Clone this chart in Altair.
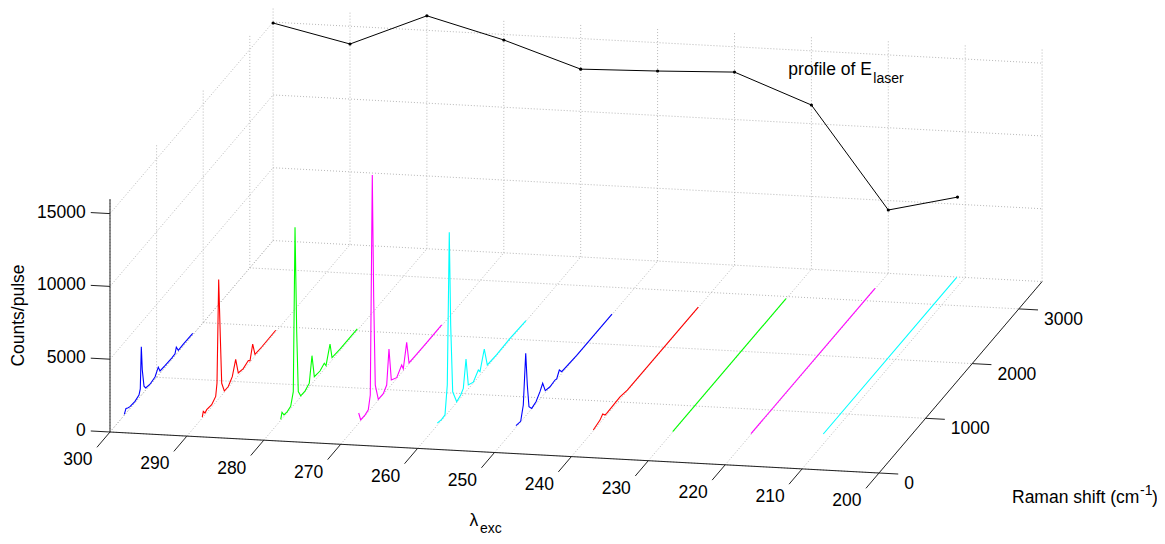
import altair as alt
import pandas as pd

# ---------------- data ----------------
lam_ticks = [300, 290, 280, 270, 260, 250, 240, 230, 220, 210, 200]
raman_ticks = [0, 1000, 2000, 3000]
count_ticks = [0, 5000, 10000, 15000]
lam_lim = [200, 300]
raman_lim = [0, 3500]
count_lim = [0, 16000]

spec_lam = [300, 290, 280, 270, 260, 250, 240, 230, 220, 211]
spec_color = ["#0000ff", "#ff0000", "#00ff00", "#ff00ff", "#00ffff",
              "#0000ff", "#ff0000", "#00ff00", "#ff00ff", "#00ffff"]

s1_raman = [307, 343, 380, 429, 536, 622, 650, 672, 693, 730, 766, 858, 966, 1036, 1073, 1180, 1324, 1395, 1423, 1466, 1573, 1775]
s1_counts = [60, 330, 220, 130, 90, 200, 520, 3330, 1650, 400, 150, 60, 150, 560, 160, 120, 100, 130, 480, 100, 130, 110]
s2_raman = [330, 352, 388, 425, 532, 618, 646, 682, 717, 747, 803, 888, 974, 1047, 1103, 1210, 1318, 1354, 1412, 1461, 1605, 1906]
s2_counts = [60, 380, 130, 220, 160, 400, 1220, 8200, 4130, 820, 80, 70, 420, 1340, 190, 90, 240, 80, 1020, 120, 90, 110]
s3_raman = [363, 391, 433, 504, 577, 633, 670, 706, 740, 792, 884, 976, 1034, 1084, 1206, 1298, 1335, 1421, 1464, 1635, 2006]
s3_counts = [60, 450, 110, 70, 160, 960, 12110, 4800, 560, 70, 50, 250, 1920, 290, 220, 410, 100, 1270, 170, 110, 110]
s4_raman = [386, 429, 521, 592, 635, 678, 708, 742, 807, 914, 987, 1036, 1086, 1202, 1309, 1343, 1416, 1466, 1631, 1845, 2167]
s4_counts = [700, 60, 50, 140, 1000, 15950, 7370, 1280, 60, 40, 360, 2650, 340, 60, 530, 130, 1680, 80, 60, 50, 60]
s5_raman = [423, 517, 588, 637, 680, 710, 753, 839, 925, 981, 1039, 1088, 1195, 1303, 1339, 1431, 1496, 1697, 1983, 2326]
s5_counts = [150, 50, 100, 1960, 12290, 5800, 1060, 50, 190, 440, 2240, 270, 60, 490, 240, 1450, 110, 60, 110, 40]
s6_raman = [461, 562, 618, 670, 704, 740, 798, 891, 976, 1034, 1090, 1191, 1298, 1335, 1391, 1442, 1764, 2521]
s6_counts = [110, 30, 940, 4300, 1990, 360, 30, 140, 510, 870, 150, 40, 100, 40, 440, 130, 40, 30]
s7_raman = [470, 614, 672, 721, 757, 1043, 1200, 2723]
s7_counts = [60, 200, 400, 150, 130, 190, 60, 30]
s8_raman = [524, 2955]
s8_counts = [30, 30]
s9_raman = [554, 3215]
s9_counts = [60, 40]
s10_raman = [620, 3483]
s10_counts = [40, 40]

profile_lam = [300, 290, 280, 270, 260, 250, 240, 230, 220, 211]
profile_val = [14940, 13780, 16000, 14620, 12900, 13050, 13260, 11280, 4350, 5490]

# ---------------- view (oblique 3-D projection) ----------------
W, H = 1149, 528
X0, Y0 = 110, 432          # screen position of the (300 nm, 0 cm-1, 0) corner
KXL, KYL = 7.69, 0.41      # px per nm
KXR, KYR = 0.0466, 0.0547  # px per cm-1
KYZ = 0.01456              # px per count
TICK_R = 280               # tick length along Raman direction (cm-1)
TICK_L = 2.5               # tick length along lambda direction (nm)
FONT = "Liberation Sans"
FS = 17.5
FSUB = 14
LMAX = lam_lim[1]

xs = alt.Scale(domain=[8, 8 + W], nice=False, zero=False)
ys = alt.Scale(domain=[8, 8 + H], nice=False, zero=False, reverse=True)


def ex(l, r, z):
    return (f"{X0} + ({LMAX} - datum.{l})*{KXL} + datum.{r}*{KXR}",
            f"{Y0} + ({LMAX} - datum.{l})*{KYL} - datum.{r}*{KYR} - datum.{z}*{KYZ}")


def pts(df):
    px, py = ex("lam", "R", "z")
    return alt.Chart(df).transform_calculate(px=px, py=py)


def segs(df):
    a, b = ex("lam1", "R1", "z1")
    c, d = ex("lam2", "R2", "z2")
    return alt.Chart(df).transform_calculate(px1=a, py1=b, px2=c, py2=d)


def seg_enc(ch):
    return ch.encode(x=alt.X("px1:Q", scale=xs, axis=None),
                     y=alt.Y("py1:Q", scale=ys, axis=None),
                     x2="px2:Q", y2="py2:Q")


XY = dict(x=alt.X("px:Q", scale=xs, axis=None), y=alt.Y("py:Q", scale=ys, axis=None))

# ---------------- grid ----------------
grid_rows = []
L0, L1 = lam_lim
R0, R1 = raman_lim
Z0, Z1 = count_lim
for l in lam_ticks:
    grid_rows.append((l, R0, Z0, l, R1, Z0))
    grid_rows.append((l, R1, Z0, l, R1, Z1))
for r in raman_ticks:
    grid_rows.append((L1, r, Z0, L0, r, Z0))
    grid_rows.append((L1, r, Z0, L1, r, Z1))
for z in count_ticks:
    grid_rows.append((L1, R1, z, L0, R1, z))
    grid_rows.append((L1, R0, z, L1, R1, z))
grid_df = pd.DataFrame(grid_rows, columns=["lam1", "R1", "z1", "lam2", "R2", "z2"])
grid = seg_enc(segs(grid_df).mark_rule(color="#b8b8b8", strokeWidth=1, strokeDash=[1, 2]))

# ---------------- axes + ticks ----------------
axis_rows = [
    (L1, R0, Z0, L1, R0, Z1),
    (L1, R0, Z0, L0, R0, Z0),
    (L0, R0, Z0, L0, R1, Z0),
]
for l in lam_ticks:
    axis_rows.append((l, R0, Z0, l, R0 - TICK_R, Z0))
for r in raman_ticks:
    axis_rows.append((L0, r, Z0, L0 - TICK_L, r, Z0))
for z in count_ticks:
    axis_rows.append((L1, R0, z, L1 + TICK_L, R0, z))
axis_df = pd.DataFrame(axis_rows, columns=["lam1", "R1", "z1", "lam2", "R2", "z2"])
axes = seg_enc(segs(axis_df).mark_rule(color="#222222", strokeWidth=1))

lam_lab = pd.DataFrame({"lam": lam_ticks, "R": R0 - TICK_R, "z": Z0, "t": [str(v) for v in lam_ticks]})
ram_lab = pd.DataFrame({"lam": L0 - TICK_L, "R": raman_ticks, "z": Z0, "t": [str(v) for v in raman_ticks]})
cnt_lab = pd.DataFrame({"lam": L1 + TICK_L, "R": R0, "z": count_ticks, "t": [str(v) for v in count_ticks]})

lam_text = pts(lam_lab).mark_text(font=FONT, fontSize=FS, align="center", baseline="middle",
                                 dx=-19, dy=13, color="black").encode(text="t:N", **XY)
ram_text = pts(ram_lab).mark_text(font=FONT, fontSize=FS, align="left", baseline="middle",
                                 dx=6, dy=10, color="black").encode(text="t:N", **XY)
cnt_text = pts(cnt_lab).mark_text(font=FONT, fontSize=FS, align="right", baseline="middle",
                                 dx=-5, dy=0, color="black").encode(text="t:N", **XY)

# ---------------- spectra ----------------
series = [(s1_raman, s1_counts), (s2_raman, s2_counts), (s3_raman, s3_counts),
          (s4_raman, s4_counts), (s5_raman, s5_counts), (s6_raman, s6_counts),
          (s7_raman, s7_counts), (s8_raman, s8_counts), (s9_raman, s9_counts),
          (s10_raman, s10_counts)]
rows = []
for k, (rr, cc) in enumerate(series):
    for i, (r, c) in enumerate(zip(rr, cc)):
        rows.append({"spec": f"s{k+1}", "lam": spec_lam[k], "R": r, "z": c, "i": i})
spec_df = pd.DataFrame(rows)
spec_ids = [f"s{k+1}" for k in range(len(series))]
spectra = pts(spec_df).mark_line(strokeWidth=1.1).encode(
    detail="spec:N", order="i:Q",
    color=alt.Color("spec:N", scale=alt.Scale(domain=spec_ids, range=spec_color), legend=None),
    **XY)

# ---------------- laser profile (drawn on the back wall) ----------------
prof_df = pd.DataFrame({"lam": profile_lam, "R": R1, "z": profile_val, "i": range(len(profile_lam))})
prof_line = pts(prof_df).mark_line(color="black", strokeWidth=1).encode(order="i:Q", **XY)
prof_pts = pts(prof_df).mark_point(filled=True, color="black", size=10, opacity=1).encode(**XY)

# ---------------- titles ----------------
def label(lam, r, z, text, **kw):
    df = pd.DataFrame({"lam": [lam], "R": [r], "z": [z], "t": [text]})
    return pts(df).mark_text(font=FONT, color="black", **kw).encode(text="t:N", **XY)

t_counts = label(L1, R0, 8000, "Counts/pulse", fontSize=FS, angle=270, align="center",
                 baseline="alphabetic", dy=-86)
t_lam = label(250, R0, Z0, "λ", fontSize=FS, align="left", baseline="alphabetic", dx=-25, dy=73)
t_exc = label(250, R0, Z0, "exc", fontSize=FSUB, align="left", baseline="alphabetic", dx=-14.5, dy=80)
t_ram = label(L0, R0, Z0, "Raman shift (cm", fontSize=FS, align="left", baseline="alphabetic", dx=133, dy=30)
t_sup = label(L0, R0, Z0, "-1", fontSize=FSUB, align="left", baseline="alphabetic", dx=261, dy=22)
t_par = label(L0, R0, Z0, ")", fontSize=FS, align="left", baseline="alphabetic", dx=273, dy=30)
t_prof = label(233, R1, 13600, "profile of E", fontSize=FS, align="left", baseline="middle", dx=0, dy=0)
t_las = label(233, R1, 13600, "laser", fontSize=FSUB, align="left", baseline="middle", dx=85, dy=9)

chart = alt.layer(
    grid, axes, lam_text, ram_text, cnt_text, spectra, prof_line, prof_pts,
    t_counts, t_lam, t_exc, t_ram, t_sup, t_par, t_prof, t_las,
).properties(
    width=W, height=H, padding=0,
    autosize=alt.AutoSizeParams(type="none"),
).configure_view(stroke=None)

chart.save("out.html", embed_options={"renderer": "svg", "actions": False})
